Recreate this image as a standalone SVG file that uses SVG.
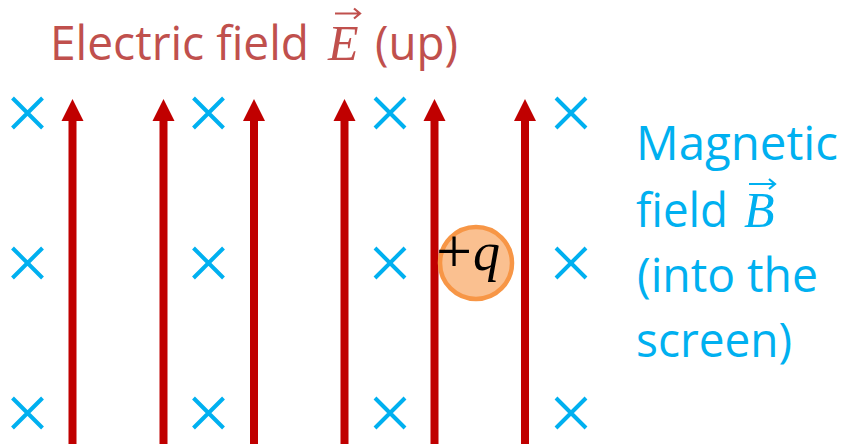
<svg xmlns="http://www.w3.org/2000/svg" xmlns:xlink="http://www.w3.org/1999/xlink" width="844" height="444" viewBox="0 0 844 444">
<style>
.lbl{font-family:"Open Sans","Liberation Sans",sans-serif;font-size:48px}
.red{fill:#C0504D}
.blue{fill:#00B0F0}
.cross{stroke:#00B0F0;stroke-width:4;fill:none}
.field{fill:#C00000}
.math{font-family:"Liberation Serif","DejaVu Serif",serif}
</style>
<defs>
<g id="xmark"><path class="cross" d="M-15,-15L15,15M15,-15L-15,15"/></g>
<g id="earrow"><rect class="field" x="-4" y="119" width="8" height="330"/><path class="field" d="M0,99L11,121L-11,121Z"/></g>
</defs>
<g id="title">
<text class="lbl red" x="50" y="60" textLength="259" lengthAdjust="spacingAndGlyphs">Electric field</text>
<text class="math red" x="328" y="60" font-size="50" font-style="italic">E</text>
<path d="M335,13.5H360M354,8.5L360,13.5L354,18.5" stroke="#C0504D" stroke-width="2.2" fill="none"/>
<text class="lbl red" x="375" y="60" textLength="83" lengthAdjust="spacingAndGlyphs">(up)</text>
</g>
<g id="connectors">
<use xlink:href="#earrow" x="72.5"/>
<use xlink:href="#earrow" x="163.5"/>
<use xlink:href="#earrow" x="254"/>
<use xlink:href="#earrow" x="344.5"/>
<use xlink:href="#earrow" x="434.5"/>
<use xlink:href="#earrow" x="525"/>
</g>
<g id="bfield">
<use xlink:href="#xmark" x="27.5" y="113"/>
<use xlink:href="#xmark" x="208.5" y="113"/>
<use xlink:href="#xmark" x="390" y="113"/>
<use xlink:href="#xmark" x="571" y="113"/>
<use xlink:href="#xmark" x="27.5" y="263"/>
<use xlink:href="#xmark" x="208.5" y="263"/>
<use xlink:href="#xmark" x="390" y="263"/>
<use xlink:href="#xmark" x="571" y="263"/>
<use xlink:href="#xmark" x="27.5" y="413"/>
<use xlink:href="#xmark" x="208.5" y="413"/>
<use xlink:href="#xmark" x="390" y="413"/>
<use xlink:href="#xmark" x="571" y="413"/>
</g>
<g id="charge">
<circle cx="476" cy="263" r="36" fill="#FAC090" stroke="#F79646" stroke-width="4.5"/>
<text class="math" x="436" y="273" font-size="64" fill="#000">+<tspan x="473" y="270" font-size="54" font-style="italic">q</tspan></text>
</g>
<g id="blabel">
<text class="lbl blue" x="636" y="160" textLength="202" lengthAdjust="spacingAndGlyphs">Magnetic</text>
<text class="lbl blue" x="636" y="227" textLength="92" lengthAdjust="spacingAndGlyphs">field</text>
<text class="math blue" x="744" y="227" font-size="50" font-style="italic">B</text>
<path d="M749,184H775M769,179L775,184L769,189" stroke="#00B0F0" stroke-width="2.2" fill="none"/>
<text class="lbl blue" x="637" y="292" textLength="181" lengthAdjust="spacingAndGlyphs">(into the</text>
<text class="lbl blue" x="636" y="357" textLength="156" lengthAdjust="spacingAndGlyphs">screen)</text>
</g>
</svg>
